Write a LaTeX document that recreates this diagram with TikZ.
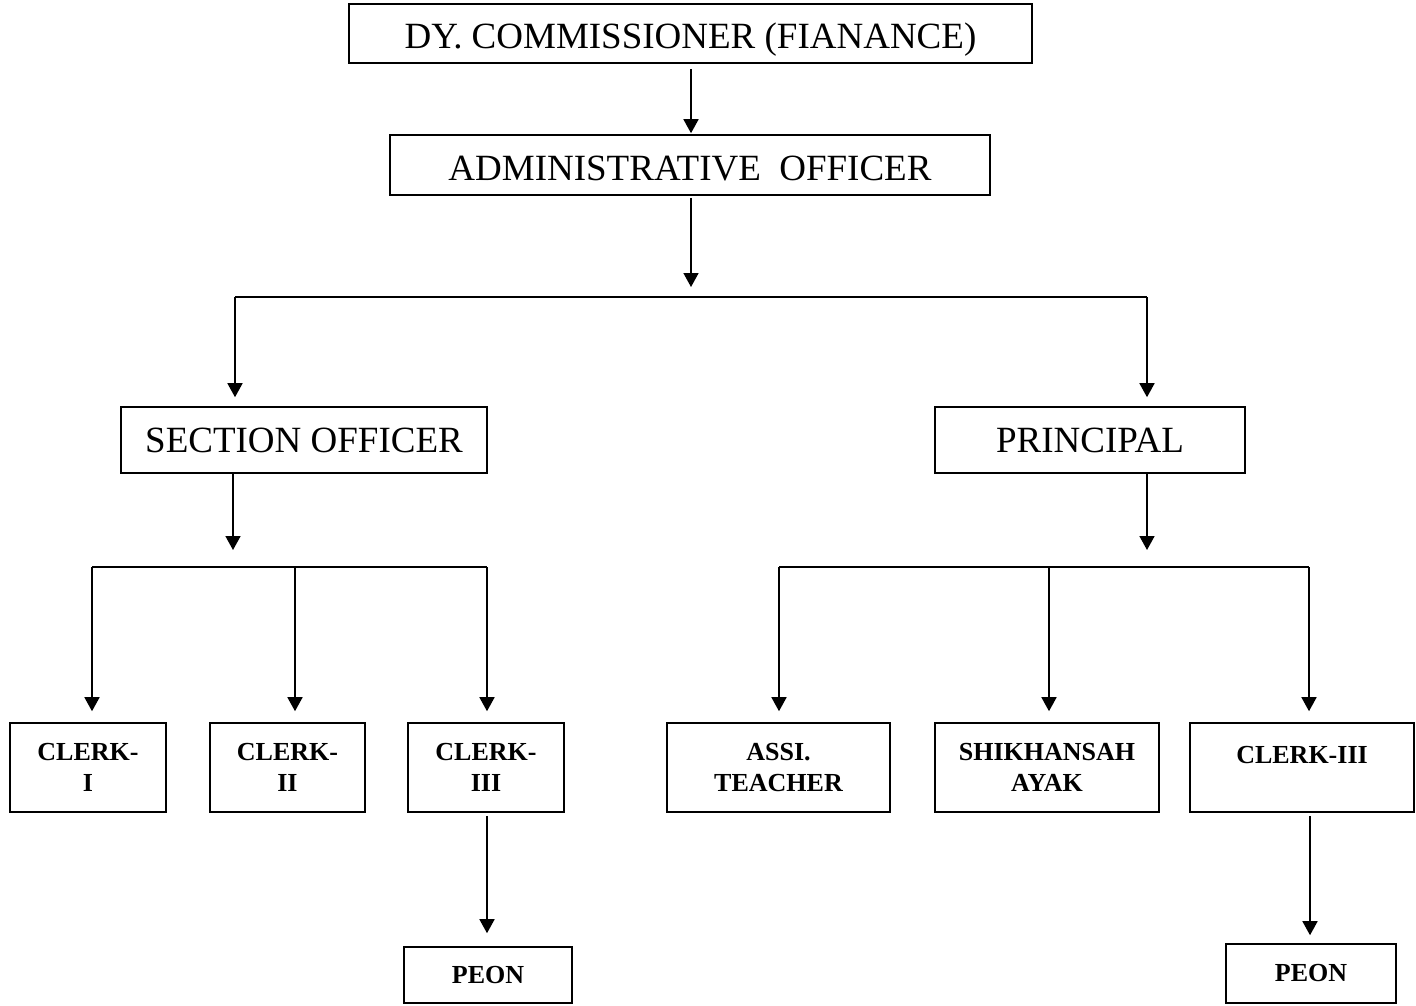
\documentclass[tikz,border=0pt]{standalone}
\usepackage{fontspec}
\setmainfont{Liberation Serif}
\usetikzlibrary{arrows.meta}
\begin{document}
\begin{tikzpicture}[x=1pt,y=-1pt,
  box/.style={draw, line width=1.6pt, inner sep=0pt, align=center},
  bigbox/.style={box, font=\fontsize{37}{40}\selectfont},
  smallbox/.style={box, font=\fontsize{26}{31}\selectfont\bfseries},
  conn/.style={line width=1.6pt},
  arr/.style={conn, -{Triangle[width=15pt,length=14pt]}}
]
\useasboundingbox (0,0) rectangle (1416,1005);
% top levels
\node[bigbox, minimum width=683pt, minimum height=59pt, text height=30pt, text depth=0pt] (dy) at (690.5,33.5) {DY. COMMISSIONER (FIANANCE)};
\node[bigbox, minimum width=600pt, minimum height=60pt, text height=31pt, text depth=0pt] (ao) at (690,165) {ADMINISTRATIVE~~OFFICER};
\node[bigbox, minimum width=366pt, minimum height=66pt] (so) at (304,440) {SECTION OFFICER};
\node[bigbox, minimum width=310pt, minimum height=66pt] (pr) at (1090,440) {PRINCIPAL};
% lower level
\node[smallbox, minimum width=156pt, minimum height=89pt] (c1) at (88,767.5) {CLERK-\\I};
\node[smallbox, minimum width=155pt, minimum height=89pt] (c2) at (287.5,767.5) {CLERK-\\II};
\node[smallbox, minimum width=156pt, minimum height=89pt] (c3) at (486,767.5) {CLERK-\\III};
\node[smallbox, minimum width=168pt, minimum height=56pt] (pl) at (488,975) {PEON};
\node[smallbox, minimum width=223pt, minimum height=89pt] (at) at (778.5,767.5) {ASSI.\\TEACHER};
\node[smallbox, minimum width=224pt, minimum height=89pt] (sh) at (1047,767.5) {SHIKHANSAH\\AYAK};
\node[smallbox, minimum width=224pt, minimum height=89pt] (cr) at (1302,767.5) {\raisebox{-8pt}[\height][0pt]{CLERK-III}\\\strut};
\node[smallbox, minimum width=170pt, minimum height=59pt] (pr2) at (1311,973.5) {PEON};
% coordinates
\coordinate (aoend) at (691,287);
\coordinate (barL) at (235,297);
\coordinate (barR) at (1147,297);
\coordinate (soend) at (233,550);
\coordinate (prend) at (1147,550);
\coordinate (sbL) at (92,567);
\coordinate (sbM) at (295,567);
\coordinate (sbR) at (487,567);
\coordinate (pbL) at (779,567);
\coordinate (pbM) at (1049,567);
\coordinate (pbR) at (1309,567);
% connectors
\draw[arr, shorten <=5pt, shorten >=1pt] (dy.south -| 691,0) -- (ao.north -| 691,0);
\draw[arr, shorten <=2pt] (ao.south -| aoend) -- (aoend);
\draw[conn] (barL) -- (barR);
\draw[arr, shorten >=9pt] (barL) -- (barL |- so.north);
\draw[arr, shorten >=9pt] (barR) -- (barR |- pr.north);
\draw[arr] (so.south -| soend) -- (soend);
\draw[arr] (pr.south -| prend) -- (prend);
\draw[conn] (sbL) -- (sbR);
\draw[conn] (pbL) -- (pbR);
\draw[arr, shorten >=11pt] (sbL) -- (sbL |- c1.north);
\draw[arr, shorten >=11pt] (sbM) -- (sbM |- c2.north);
\draw[arr, shorten >=11pt] (sbR) -- (sbR |- c3.north);
\draw[arr, shorten >=11pt] (pbL) -- (pbL |- at.north);
\draw[arr, shorten >=11pt] (pbM) -- (pbM |- sh.north);
\draw[arr, shorten >=11pt] (pbR) -- (pbR |- cr.north);
\draw[arr, shorten <=3pt, shorten >=13pt] (c3.south -| sbR) -- (pl.north -| sbR);
\draw[arr, shorten <=3pt, shorten >=8pt] (cr.south -| 1310,0) -- (pr2.north -| 1310,0);
\end{tikzpicture}
\end{document}
